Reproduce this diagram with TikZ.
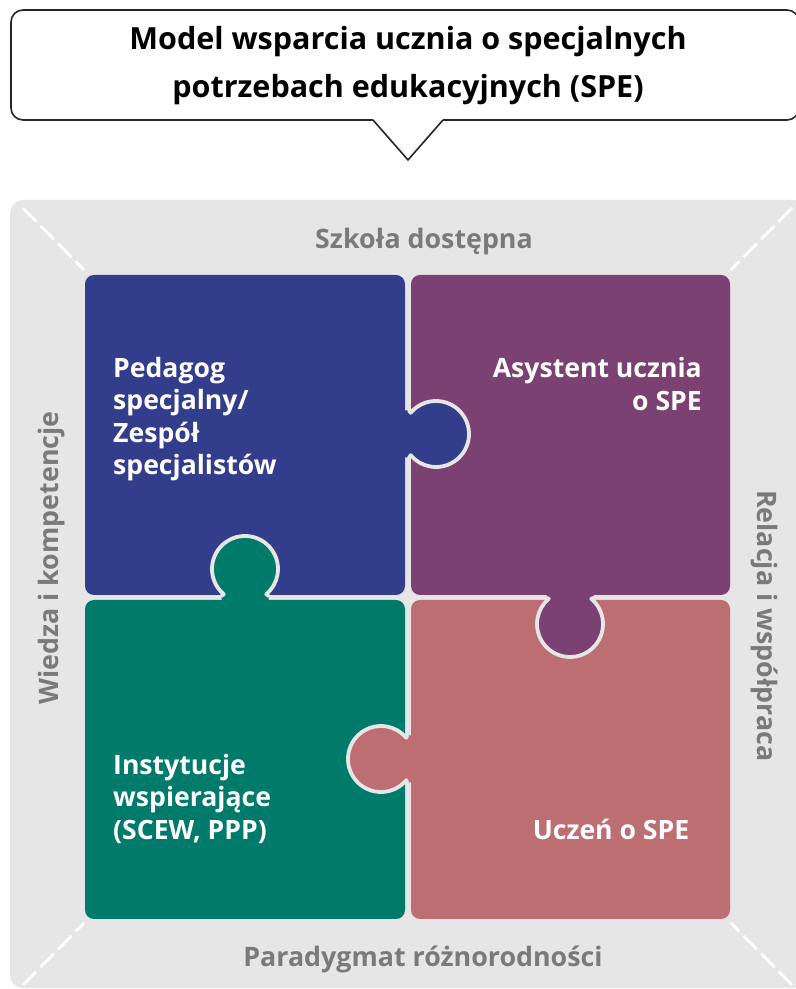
\documentclass[tikz,border=0pt]{standalone}
\usepackage{fontspec}
\setmainfont{Open Sans}
\definecolor{panelgray}{HTML}{E6E6E6}
\definecolor{labelgray}{HTML}{7A7A7A}
\definecolor{pblue}{HTML}{323E8C}
\definecolor{ppurple}{HTML}{7B4172}
\definecolor{pgreen}{HTML}{007A6A}
\definecolor{ppink}{HTML}{BD6E73}
\tikzset{
  piece/.style={rounded corners=9pt},
  cornerdash/.style={draw=white,line width=2.8pt,dash pattern=on 19pt off 6pt},
  sidelabel/.style={text=labelgray,font=\bfseries\fontsize{26.8}{30}\selectfont,inner sep=0pt},
  piecelabel/.style={text=white,font=\bfseries\fontsize{26.6}{32.6}\selectfont,inner sep=0pt},
  titlelabel/.style={text=black,align=center,font=\bfseries\fontsize{30.5}{47.5}\selectfont,inner sep=0pt}
}
% puzzle tab: centre x, centre y (y up), rotation, gap distance, colour
\newcommand{\puzzletab}[5]{%
  \begin{scope}[shift={(#1,#2)},rotate=#3]
    \fill[#5] (-#4-4,23.5) -- (-#4+1,23.5) -- (140:33) arc[start angle=140,end angle=-140,radius=33] -- (-#4+1,-23.5) -- (-#4-4,-23.5) -- cycle;
    \draw[panelgray,line width=3.8pt,line cap=round,line join=round] (-#4+1,23.5) -- (140:33) arc[start angle=140,end angle=-140,radius=33] -- (-#4+1,-23.5);
  \end{scope}}
\begin{document}
\begin{tikzpicture}[x=1pt,y=1pt]
\useasboundingbox (0,0) rectangle (796,989);
\clip (0,0) rectangle (796,989);
\fill[white] (0,0) rectangle (796,989);
% speech bubble
\draw[line width=1.6pt,draw=black!85,fill=white,rounded corners=12pt] (373,869) -- (11,869) -- (11,979) -- (799,979) -- (799,869) -- (443,869);
\draw[line width=1.6pt,draw=black!85,line join=round] (373,869) -- (408,829) -- (443,869);
% panel
\fill[panelgray,rounded corners=13pt] (10,1) rectangle (806,789);
% corner dashes
\draw[cornerdash] (23,781) -- (84,719);
\draw[cornerdash] (792,781) -- (731,719);
\draw[cornerdash] (23,4) -- (84,66);
\draw[cornerdash] (792,4) -- (731,66);
% pieces
\fill[pblue,piece] (85,394) rectangle (405,714);
\fill[ppurple,piece] (411,394) rectangle (730,714);
\fill[pgreen,piece] (85,70) rectangle (405,389);
\fill[ppink,piece] (411,70) rectangle (730,389);
% tabs
\puzzletab{436}{555}{0}{28}{pblue}
\puzzletab{245}{420}{90}{28}{pgreen}
\puzzletab{570}{365}{-90}{27}{ppurple}
\puzzletab{381}{230}{180}{27}{ppink}
% texts
\node[titlelabel] (title) at (408,923.5) {Model wsparcia ucznia o specjalnych\\potrzebach edukacyjnych (SPE)};
\node[sidelabel] (top) at (424,747) {Szkoła dostępna};
\node[sidelabel] (bottom) at (423,30) {Paradygmat różnorodności};
\node[sidelabel,rotate=90] (left) at (52,431) {Wiedza i kompetencje};
\node[sidelabel,rotate=-90] (right) at (765,363) {Relacja i współpraca};
\node[piecelabel,align=left,anchor=west] (ped) at (113,570) {Pedagog\\specjalny/\\Zespół\\specjalistów};
\node[piecelabel,align=right,anchor=east] (asy) at (702,605) {Asystent ucznia\\o SPE};
\node[piecelabel,align=left,anchor=west] (ins) at (113,190) {Instytucje\\wspierające\\(SCEW, PPP)};
\node[piecelabel] (ucz) at (611,160) {Uczeń o SPE};
\end{tikzpicture}
\end{document}
